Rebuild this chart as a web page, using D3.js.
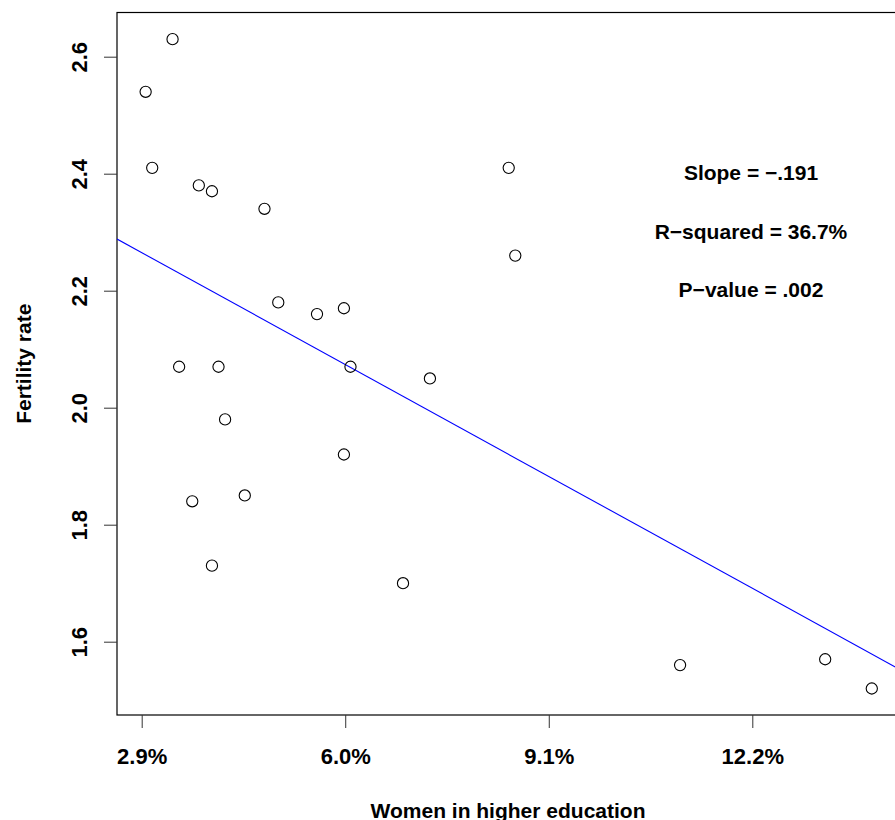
<!DOCTYPE html>
<html>
<head>
<meta charset="utf-8">
<script src="https://cdn.jsdelivr.net/npm/d3@7"></script>
<style>
  body { margin: 0; background: #fff; }
  svg text { font-family: "Liberation Sans", Arial, sans-serif; fill: #000; font-weight: bold; }
</style>
</head>
<body>
<div id="chart"></div>
<script>
// data
const womenEdu = [2.96, 3.37, 3.06, 3.77, 3.97, 4.77, 4.98, 5.57, 5.98, 6.08, 7.29, 8.49, 8.59, 5.98,
                  3.47, 4.07, 4.17, 3.67, 4.47, 3.97, 6.88, 11.10, 13.31, 14.02];
const fertility = [2.54, 2.63, 2.41, 2.38, 2.37, 2.34, 2.18, 2.16, 2.17, 2.07, 2.05, 2.41, 2.26, 1.92,
                   2.07, 2.07, 1.98, 1.84, 1.85, 1.73, 1.70, 1.56, 1.57, 1.52];
const xTicks = [2.9, 6.0, 9.1, 12.2];
const yTicks = [1.6, 1.8, 2.0, 2.2, 2.4, 2.6];
const fitIntercept = 2.444;
const fitSlope = -0.0617;
const statLines = ["Slope = \u2212.191", "R\u2212squared = 36.7%", "P\u2212value = .002"];

const svgWidth = 895;
const svgHeight = 820;
const plot = { left: 117, top: 12.5, right: 899, bottom: 715 };

const svg = d3.select("#chart")
  .append("svg")
  .attr("width", svgWidth)
  .attr("height", svgHeight);

const xScale = d3.scaleLinear()
    .domain([2.9, 12.2])
    .range([141.7, 752.3]);

const yScale = d3.scaleLinear()
    .domain([1.6, 2.6])
    .range([641.7, 56.7]);

svg.append("clipPath")
    .attr("id", "clip")
  .append("rect")
    .attr("x", plot.left)
    .attr("y", plot.top)
    .attr("width", plot.right - plot.left)
    .attr("height", plot.bottom - plot.top);

// box
svg.append("rect")
    .attr("x", plot.left)
    .attr("y", plot.top)
    .attr("width", plot.right - plot.left)
    .attr("height", plot.bottom - plot.top)
    .attr("fill", "none")
    .attr("stroke", "#000")
    .attr("stroke-width", 1.2);

// x axis
const xAxis = svg.append("g")
    .attr("transform", `translate(0,${plot.bottom})`)
    .call(d3.axisBottom(xScale).tickValues(xTicks).tickSize(13).tickPadding(20)
      .tickFormat(d => d.toFixed(1) + "%"));
xAxis.select(".domain").remove();
xAxis.selectAll("text").attr("font-size", 22).attr("font-family", null);

// y axis
const yAxis = svg.append("g")
    .attr("transform", `translate(${plot.left},0)`)
    .call(d3.axisLeft(yScale).tickValues(yTicks).tickSize(13)
      .tickFormat(d3.format(".1f")));
yAxis.select(".domain").remove();
yAxis.selectAll("text")
    .attr("font-size", 22)
    .attr("font-family", null)
    .attr("transform", "rotate(-90)")
    .attr("x", 0)
    .attr("y", -30)
    .attr("dy", 0)
    .attr("text-anchor", "middle");
yAxis.selectAll("text").attr("y", -30);
svg.selectAll(".tick line").attr("stroke", "#333");

// regression line
const lineX = [xScale.invert(plot.left), xScale.invert(plot.right)];
svg.append("line")
    .attr("clip-path", "url(#clip)")
    .attr("x1", xScale(lineX[0]))
    .attr("y1", yScale(fitIntercept + fitSlope * lineX[0]))
    .attr("x2", xScale(lineX[1]))
    .attr("y2", yScale(fitIntercept + fitSlope * lineX[1]))
    .attr("stroke", "#0000ff")
    .attr("stroke-width", 1.1);

// points
svg.selectAll(".pt")
    .data(womenEdu)
    .enter()
    .append("circle")
    .attr("class", "pt")
    .attr("cx", d => xScale(d))
    .attr("cy", (d, i) => yScale(fertility[i]))
    .attr("r", 5.6)
    .attr("fill", "none")
    .attr("stroke", "#000")
    .attr("stroke-width", 1.1);

// stats text
svg.selectAll(".stat")
    .data(statLines)
    .enter()
    .append("text")
    .attr("class", "stat")
    .attr("x", 751)
    .attr("y", (d, i) => 180 + i * 58.5)
    .attr("text-anchor", "middle")
    .attr("font-size", 21)
    .text(d => d);

// axis titles
svg.append("text")
    .attr("x", 508)
    .attr("y", 818)
    .attr("text-anchor", "middle")
    .attr("font-size", 21)
    .text("Women in higher education");

svg.append("text")
    .attr("transform", `translate(31,${(plot.top + plot.bottom) / 2}) rotate(-90)`)
    .attr("text-anchor", "middle")
    .attr("font-size", 21)
    .text("Fertility rate");
</script>
</body>
</html>
